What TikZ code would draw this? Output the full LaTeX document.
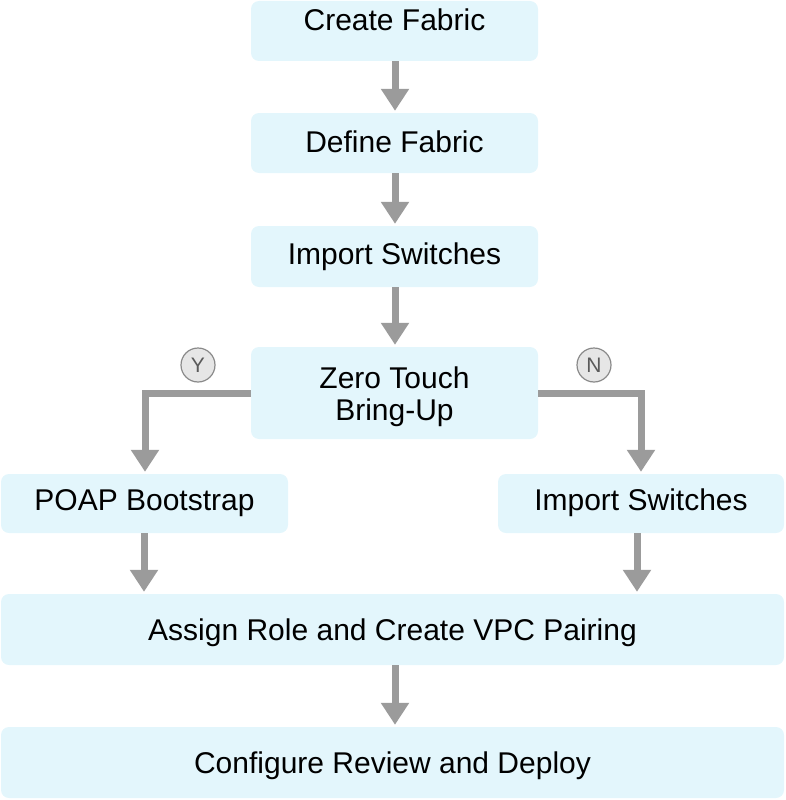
\documentclass[tikz,border=0pt]{standalone}
\usepackage{fontspec}
\setmainfont{Liberation Sans}
\usetikzlibrary{arrows.meta}
\definecolor{boxfill}{HTML}{E3F6FC}
\definecolor{arrowgray}{HTML}{9B9B9B}
\definecolor{circfill}{HTML}{E6E6E6}
\definecolor{circdraw}{HTML}{8A8A8A}
\definecolor{circtext}{HTML}{5A5A5A}
\tikzset{
  box/.style={draw=none, fill=boxfill, rounded corners=8pt, inner sep=0pt,
    font=\fontsize{30}{32}\selectfont, align=center, text height=21pt, text depth=3pt},
  boxtext/.style={inner sep=0pt, font=\fontsize{30}{32}\selectfont, align=center},
  flow/.style={draw=arrowgray, line width=7pt,
    -{Triangle[width=27pt,length=22pt]}, shorten >=2pt},
  yn/.style={circle, draw=circdraw, line width=1.2pt, fill=circfill, minimum size=34pt,
    inner sep=0pt, text=circtext, font=\fontsize{21}{21}\selectfont}
}
\begin{document}
\begin{tikzpicture}[x=1pt, y=-1pt]
\useasboundingbox (0,0) rectangle (785,800);
\node[box, minimum width=287pt, minimum height=60pt, text depth=22pt] (cf) at (394.5,31) {Create Fabric};
\node[box, minimum width=287pt, minimum height=60pt, text depth=2pt] (df) at (394.5,143) {Define Fabric};
\node[box, minimum width=287pt, minimum height=61pt, text depth=5pt] (is) at (394.5,256.5) {Import Switches};
\node[box, minimum width=287pt, minimum height=92pt] (zt) at (394.5,393) {};
\node[boxtext] (ztt) at (394.5,397) {Zero Touch\\Bring-Up};
\node[box, minimum width=287pt, minimum height=59pt, text depth=7pt] (poap) at (144.5,503.5) {POAP Bootstrap};
\node[box, minimum width=286pt, minimum height=59pt, text depth=7pt] (is2) at (641,503.5) {Import Switches};
\node[box, minimum width=783pt, minimum height=71pt, text depth=-4pt] (ar) at (392.5,629.5) {Assign Role and Create VPC Pairing};
\node[box, minimum width=783pt, minimum height=71pt, text depth=-2pt] (cr) at (392.5,762.5) {Configure Review and Deploy};

\node[yn] (y) at (198,365) {Y};
\node[yn] (n) at (594,365) {N};

\coordinate (lt) at (145,393);
\coordinate (rt) at (641,393);

\draw[flow] (cf.south -| 395,0) -- (df.north -| 395,0);
\draw[flow] (df.south -| 395,0) -- (is.north -| 395,0);
\draw[flow] (is.south -| 395,0) -- (zt.north -| 395,0);
\draw[flow] (zt.west |- lt) -- (lt) -- (poap.north -| lt);
\draw[flow] (zt.east |- rt) -- (rt) -- (is2.north -| rt);
\draw[flow] (poap.south -| 144,0) -- (ar.north -| 144,0);
\draw[flow] (is2.south -| 637,0) -- (ar.north -| 637,0);
\draw[flow] (ar.south -| 395,0) -- (cr.north -| 395,0);
\end{tikzpicture}
\end{document}
